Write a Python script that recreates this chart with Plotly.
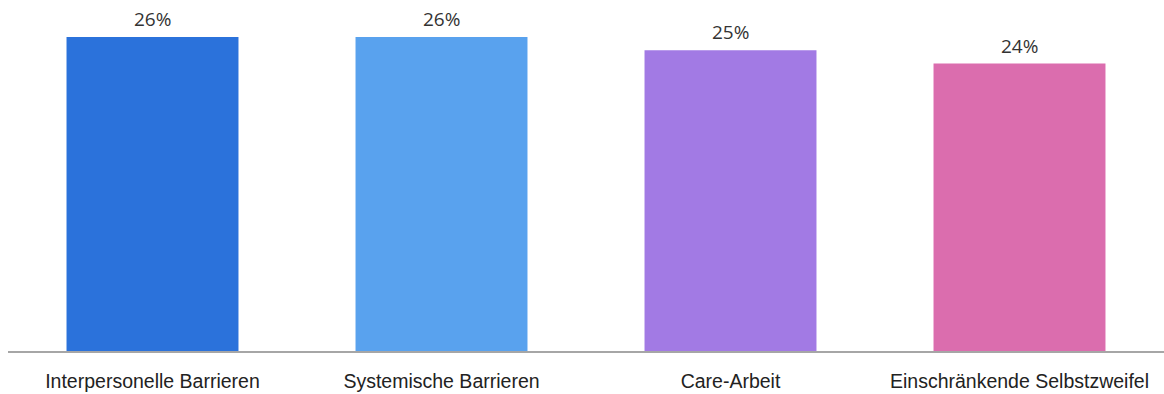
import plotly.graph_objects as go

categories = ["Interpersonelle Barrieren", "Systemische Barrieren", "Care-Arbeit", "Einschränkende Selbstzweifel"]
values = [26.0, 26.0, 24.9, 23.8]
labels = ["26%", "26%", "25%", "24%"]
colors = ["#2B72DB", "#59A2EE", "#A27AE4", "#DB6DAE"]

fig = go.Figure(go.Bar(x=categories, y=values, marker=dict(color=colors, line=dict(width=0)),
                       hoverinfo="skip"))

for c, v, t in zip(categories, values, labels):
    fig.add_annotation(x=c, y=v, text=t, showarrow=False, yanchor="bottom", yshift=3,
                       font=dict(family="Open Sans, Noto Sans, sans-serif", size=19, color="#333333"))

fig.update_layout(
    width=1164, height=394,
    margin=dict(l=8, r=0, t=0, b=43),
    paper_bgcolor="white", plot_bgcolor="white",
    bargap=0.405,
    showlegend=False,
    xaxis=dict(showline=True, linecolor="#A6A6A6", linewidth=1.5, ticks="", showgrid=False,
               tickfont=dict(family="Liberation Sans, Arial, sans-serif", size=19.5, color="#222222"),
               ticklabelstandoff=12),
    yaxis=dict(range=[0, 29.06], visible=False, showgrid=False, zeroline=False),
)

fig.write_html("out.html")
